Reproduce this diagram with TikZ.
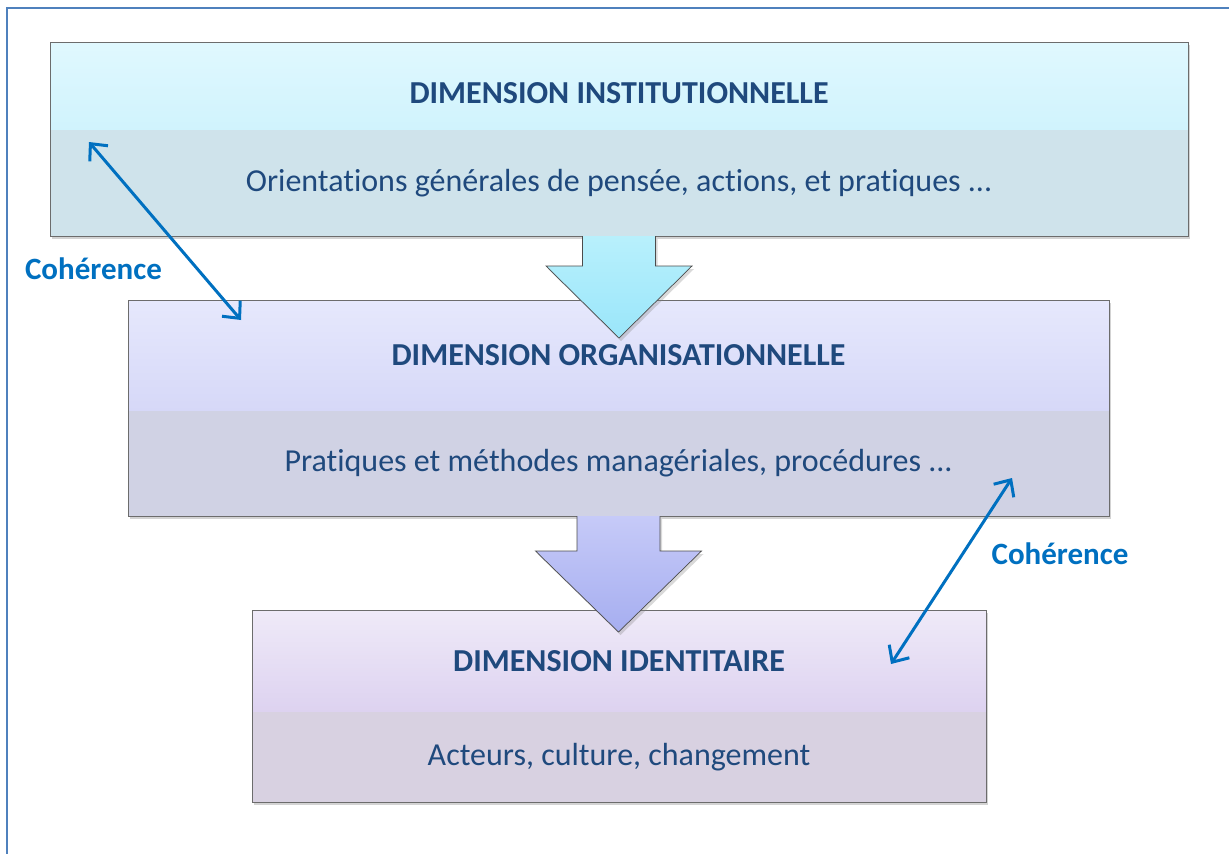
\documentclass[tikz,border=0pt]{standalone}
\usepackage{fontspec}
\setmainfont{Carlito}[Ligatures={NoCommon,NoRare}]
\usetikzlibrary{positioning,calc,shadows,backgrounds,arrows.meta}
\definecolor{titleblue}{HTML}{1F497D}
\definecolor{cohblue}{HTML}{0070C0}
\definecolor{frameblue}{HTML}{4F81BD}
\definecolor{instA}{HTML}{E0F8FE}
\definecolor{instB}{HTML}{D0F3FD}
\definecolor{instC}{HTML}{CFE3EB}
\definecolor{orgA}{HTML}{E6E8FC}
\definecolor{orgB}{HTML}{D6D8F8}
\definecolor{orgC}{HTML}{D0D2E4}
\definecolor{identA}{HTML}{EFEAF8}
\definecolor{identB}{HTML}{DDD2F0}
\definecolor{identC}{HTML}{D8D1E1}
\definecolor{arrowA}{HTML}{B8F0FC}
\definecolor{arrowB}{HTML}{9AE6FA}
\definecolor{arrowC}{HTML}{C6CAF8}
\definecolor{arrowD}{HTML}{A6AEF0}

\tikzset{
  dimhead/.style={inner sep=0pt, outer sep=0pt, text=titleblue,
    font=\fontsize{32}{38}\selectfont\bfseries},
  dimbody/.style={inner sep=0pt, outer sep=0pt, text=titleblue,
    font=\fontsize{32}{38}\selectfont},
  boxshadow/.style={fill=white, drop shadow={shadow xshift=2pt, shadow yshift=-3pt, opacity=0.35}},
  boxline/.style={draw=gray!85!black, line width=0.9pt},
  blockarrow/.style={draw=gray!60!black, line width=0.7pt, line join=miter,
    drop shadow={shadow xshift=2pt, shadow yshift=-3pt, opacity=0.3}},
  coher/.style={cohblue, line width=3pt,
    {Straight Barb[length=13pt, width=24pt]}-{Straight Barb[length=13pt, width=24pt]}},
  cohtext/.style={text=cohblue, font=\fontsize{31}{36}\selectfont\bfseries}
}

\begin{document}
\begin{tikzpicture}[x=1pt, y=-1pt]
  \useasboundingbox (0,0) rectangle (1229,854);
  \draw[frameblue, line width=2.4pt] (7,870) -- (7,8) -- (1240,8);

  \node[dimhead, minimum width=1138pt, minimum height=88pt, top color=instA, bottom color=instB,
    text height=34.6pt, text depth=0pt] (inst) at (619,86) {DIMENSION INSTITUTIONNELLE};
  \node[dimbody, minimum width=1138pt, minimum height=106pt, fill=instC, below=0pt of inst] (instbody) {Orientations générales de pensée, actions, et pratiques ...};

  \node[dimhead, minimum width=981pt, minimum height=111pt, top color=orgA, bottom color=orgB] (org) at (618.5,355.5) {DIMENSION ORGANISATIONNELLE};
  \node[dimbody, minimum width=981pt, minimum height=105pt, fill=orgC, below=0pt of org] (orgbody) {Pratiques et méthodes managériales, procédures ...};

  \node[dimhead, minimum width=734pt, minimum height=102pt, top color=identA, bottom color=identB] (ident) at (619,661) {DIMENSION IDENTITAIRE};
  \node[dimbody, minimum width=734pt, minimum height=90pt, fill=identC, below=0pt of ident] (identbody) {Acteurs, culture, changement};

  \begin{scope}[on background layer]
    \fill[boxshadow] (inst.north west) rectangle (instbody.south east);
    \fill[boxshadow] (org.north west) rectangle (orgbody.south east);
    \fill[boxshadow] (ident.north west) rectangle (identbody.south east);
  \end{scope}
  \draw[boxline] (inst.north west) rectangle (instbody.south east);
  \draw[boxline] (org.north west) rectangle (orgbody.south east);
  \draw[boxline] (ident.north west) rectangle (identbody.south east);

  \draw[blockarrow, top color=arrowA, bottom color=arrowB]
    ($(instbody.south)+(-36.5,0)$) -- ++(0,30) -- ++(-36.5,0) -- ($(instbody.south)+(0,102)$)
    -- ($(instbody.south)+(73,30)$) -- ++(-36.5,0) -- ($(instbody.south)+(36.5,0)$);
  \draw[blockarrow, top color=arrowC, bottom color=arrowD]
    ($(orgbody.south)+(-41.5,0)$) -- ++(0,35) -- ++(-41.5,0) -- ($(orgbody.south)+(0,116)$)
    -- ($(orgbody.south)+(83,35)$) -- ++(-41.5,0) -- ($(orgbody.south)+(41.5,0)$);

  \coordinate (cohA1) at (89,142);
  \coordinate (cohA2) at (241,320);
  \coordinate (cohB1) at (1012,478);
  \coordinate (cohB2) at (891,664);
  \draw[coher] (cohA1) -- (cohA2);
  \draw[coher] (cohB1) -- (cohB2);
  \node[cohtext] (cohleft) at (93.5,269) {Cohérence};
  \node[cohtext] (cohright) at (1060,554) {Cohérence};
\end{tikzpicture}
\end{document}
